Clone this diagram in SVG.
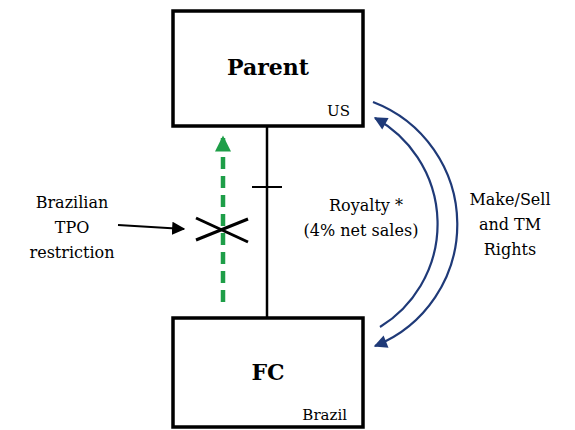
<svg xmlns="http://www.w3.org/2000/svg" width="575" height="430" viewBox="0 0 575 430">
<style>
.box{fill:#fff;stroke:#000;stroke-width:3.5}
.t{font-family:"DejaVu Serif","Liberation Serif",serif;fill:#000}
.title{font-size:22px;font-weight:bold;text-anchor:middle}
.small{font-size:15px;text-anchor:end}
.lbl{font-size:16px;text-anchor:middle}
.arc{fill:none;stroke:#1f3a78;stroke-width:2.2}
</style>
<defs>
<marker id="navy" viewBox="0 0 10 10" refX="9" refY="5" markerWidth="7" markerHeight="6" markerUnits="strokeWidth" orient="auto">
<path d="M0,0 L10,5 L0,10 Z" fill="#1f3a78"/>
</marker>
<marker id="green" viewBox="0 0 10 10" refX="9" refY="5" markerWidth="3.6" markerHeight="3.6" markerUnits="strokeWidth" orient="auto">
<path d="M0,0 L10,5 L0,10 Z" fill="#1e9e48"/>
</marker>
<marker id="black" viewBox="0 0 10 10" refX="9" refY="5" markerWidth="6" markerHeight="6" markerUnits="strokeWidth" orient="auto">
<path d="M0,0 L10,5 L0,10 Z" fill="#000"/>
</marker>
</defs>
<g id="connectors">
<line x1="267" y1="127" x2="267" y2="318" stroke="#000" stroke-width="2.5"/>
<line x1="252" y1="187" x2="282" y2="187" stroke="#000" stroke-width="2"/>
<line x1="223" y1="302" x2="223" y2="137" stroke="#1e9e48" stroke-width="4.5" stroke-dasharray="12,7" marker-end="url(#green)"/>
<line x1="196" y1="218" x2="248" y2="242" stroke="#000" stroke-width="3"/>
<line x1="196" y1="240" x2="248" y2="219" stroke="#000" stroke-width="3"/>
<line x1="118" y1="225" x2="184" y2="229" stroke="#000" stroke-width="2.2" marker-end="url(#black)"/>
<path class="arc" d="M373,102 A131,131 0 0,1 375,346" marker-end="url(#navy)"/>
<path class="arc" d="M380,327 A121,121 0 0,0 375,118" marker-end="url(#navy)"/>
</g>
<g id="parent">
<rect class="box" x="173" y="11" width="190" height="115"/>
<text class="t title" x="268" y="75">Parent</text>
<text class="t small" x="350" y="116">US</text>
</g>
<g id="fc">
<rect class="box" x="173" y="318" width="190" height="109"/>
<text class="t title" x="268" y="380">FC</text>
<text class="t small" x="347" y="420">Brazil</text>
</g>
<g id="labels">
<text class="t lbl" x="72" y="208">Brazilian</text>
<text class="t lbl" x="72" y="233">TPO</text>
<text class="t lbl" x="72" y="258">restriction</text>
<text class="t lbl" x="366" y="211">Royalty *</text>
<text class="t lbl" x="361" y="236">(4% net sales)</text>
<text class="t lbl" x="510" y="205">Make/Sell</text>
<text class="t lbl" x="510" y="230">and TM</text>
<text class="t lbl" x="510" y="255">Rights</text>
</g>
</svg>
